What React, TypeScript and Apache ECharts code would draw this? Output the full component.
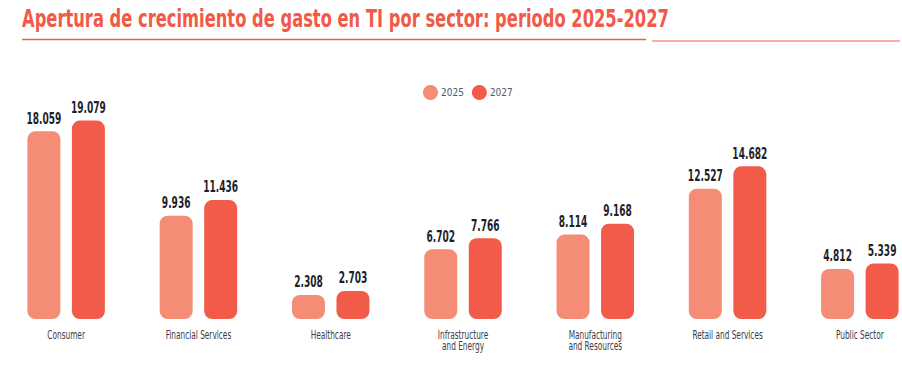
import React, { useEffect, useRef } from "react";
import * as echarts from "echarts";

const TITLE = "Apertura de crecimiento de gasto en TI por sector: periodo 2025-2027";
const categories = [
  "Consumer",
  "Financial Services",
  "Healthcare",
  "Infrastructure\nand Energy",
  "Manufacturing\nand Resources",
  "Retail and Services",
  "Public Sector",
];
const seriesNames = ["2025", "2027"];
const values2025 = [18.059, 9.936, 2.308, 6.702, 8.114, 12.527, 4.812];
const values2027 = [19.079, 11.436, 2.703, 7.766, 9.168, 14.682, 5.339];

const FAMILY = "'DejaVu Sans Condensed', sans-serif";
const TITLE_FONT = `bold 24px ${FAMILY}`;
const VALUE_FONT = `bold 16px ${FAMILY}`;
const CAT_FONT = `11.5px ${FAMILY}`;

function measure(text: string, font: string): number {
  try {
    const c = document.createElement("canvas");
    const ctx = c.getContext("2d");
    if (!ctx) return 0;
    ctx.font = font;
    return ctx.measureText(text).width;
  } catch (e) {
    return 0;
  }
}

function fitScale(text: string, font: string, target: number, fallback: number): number {
  const w = measure(text, font);
  return w > 0 ? target / w : fallback;
}

const BAR_W = 33;
const BAR_GAP = 11.5;

export default function App() {
  const ref = useRef<HTMLDivElement>(null);
  useEffect(() => {
    if (!ref.current) return;
    const chart = echarts.init(ref.current, undefined, { renderer: "svg" });
    const titleSX = fitScale(TITLE, TITLE_FONT, 647, 0.6);
    const valueSX = fitScale("18.059", VALUE_FONT, 35, 0.66);
    const catSX = fitScale("Consumer", CAT_FONT, 37.6, 0.8);

    const valueLabelSeries = (name: string, values: number[], offset: number) => ({
      name,
      type: "custom",
      z: 5,
      silent: true,
      data: values.map((v, i) => [i, v]),
      renderItem: (_params: any, api: any) => {
        const idx = api.value(0);
        const val = api.value(1);
        const pt = api.coord([idx, val]);
        return {
          type: "text",
          x: pt[0] + offset,
          y: pt[1] - 5,
          scaleX: valueSX,
          style: {
            text: Number(val).toFixed(3),
            font: VALUE_FONT,
            fill: "#1d1f2b",
            align: "center",
            verticalAlign: "bottom",
          },
        };
      },
    });

    chart.setOption({
      animation: false,
      backgroundColor: "#ffffff",
      graphic: [
        {
          type: "text",
          x: 22,
          y: 19,
          scaleX: titleSX,
          style: {
            text: TITLE,
            font: TITLE_FONT,
            fill: "#F15A47",
            align: "left",
            verticalAlign: "middle",
          },
        },
        {
          type: "line",
          shape: { x1: 22, y1: 39.5, x2: 646, y2: 39.5 },
          style: { stroke: "#EE5E4C", lineWidth: 1.5 },
        },
        {
          type: "line",
          shape: { x1: 652, y1: 41, x2: 900, y2: 41 },
          style: { stroke: "#EE5E4C", lineWidth: 1.2 },
        },
      ],
      legend: {
        left: 423,
        top: 85,
        padding: 0,
        icon: "circle",
        itemWidth: 15,
        itemHeight: 15,
        itemGap: 8,
        textStyle: { fontSize: 10, fontFamily: FAMILY, color: "#555a66", padding: [0, 0, 0, -2] },
        data: seriesNames,
      },
      grid: {
        left: 0,
        right: -24,
        top: 111,
        bottom: 49,
        containLabel: false,
        outerBoundsMode: "none",
      },
      xAxis: {
        type: "category",
        data: categories,
        axisLine: { show: false },
        axisTick: { show: false },
        axisLabel: { show: false },
      },
      yAxis: {
        type: "value",
        min: 0,
        max: 20,
        show: false,
        splitLine: { show: false },
      },
      series: [
        {
          name: seriesNames[0],
          type: "bar",
          data: values2025,
          barWidth: BAR_W,
          barGap: `${(BAR_GAP / BAR_W) * 100}%`,
          itemStyle: { color: "#F58C76", borderRadius: 8 },
        },
        {
          name: seriesNames[1],
          type: "bar",
          data: values2027,
          barWidth: BAR_W,
          barGap: `${(BAR_GAP / BAR_W) * 100}%`,
          itemStyle: { color: "#F25B49", borderRadius: 8 },
        },
        valueLabelSeries("label2025", values2025, -(BAR_W + BAR_GAP) / 2),
        valueLabelSeries("label2027", values2027, (BAR_W + BAR_GAP) / 2),
        {
          name: "categoryLabels",
          type: "custom",
          silent: true,
          data: categories.map((_, i) => [i, 0]),
          renderItem: (_params: any, api: any) => {
            const idx = api.value(0);
            const pt = api.coord([idx, 0]);
            return {
              type: "text",
              x: pt[0],
              y: pt[1] + 10,
              scaleX: catSX,
              style: {
                text: categories[idx],
                font: CAT_FONT,
                lineHeight: 11.5,
                fill: "#3a3c48",
                align: "center",
                verticalAlign: "top",
              },
            };
          },
        },
      ],
    });
    return () => chart.dispose();
  }, []);
  return (
    <div
      ref={ref}
      style={{ position: "fixed", left: 0, top: 0, width: 902, height: 368 }}
    />
  );
}
